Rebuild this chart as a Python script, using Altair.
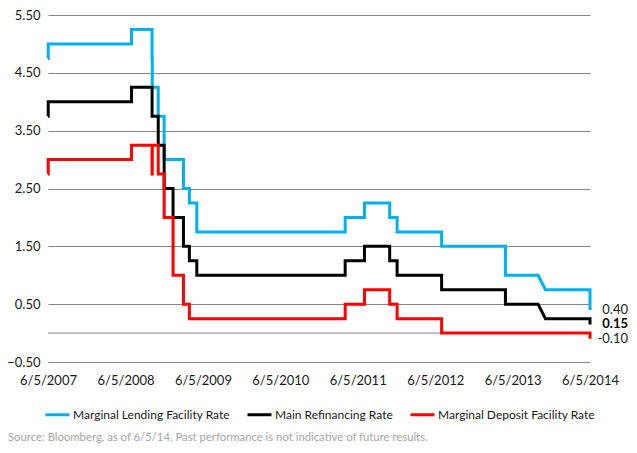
import altair as alt
import pandas as pd

# ECB policy rate decisions (announcement dates)
change_dates = ["2007-06-05", "2007-06-06", "2008-07-03", "2008-10-08", "2008-10-09",
                "2008-11-06", "2008-12-04", "2009-01-15", "2009-03-05", "2009-04-02",
                "2009-05-07", "2011-04-07", "2011-07-07", "2011-11-03", "2011-12-08",
                "2012-07-05", "2013-05-02", "2013-11-07", "2014-06-05"]
lending = [4.75, 5.00, 5.25, 4.75, 4.25, 3.75, 3.00, 3.00, 2.50, 2.25, 1.75,
           2.00, 2.25, 2.00, 1.75, 1.50, 1.00, 0.75, 0.40]
refi = [3.75, 4.00, 4.25, 3.75, 3.75, 3.25, 2.50, 2.00, 1.50, 1.25, 1.00,
        1.25, 1.50, 1.25, 1.00, 0.75, 0.50, 0.25, 0.15]
deposit = [2.75, 3.00, 3.25, 2.75, 3.25, 2.75, 2.00, 1.00, 0.50, 0.25, 0.25,
           0.50, 0.75, 0.50, 0.25, 0.00, 0.00, 0.00, -0.10]
# changes drawn as a ramp in the original (start of ramp)
ramp_starts = {"2013-11-07": "2013-10-03"}

series_names = ["Marginal Lending Facility Rate", "Main Refinancing Rate",
                "Marginal Deposit Facility Rate"]
series_colors = ["#00B0F0", "#000000", "#FF0000"]
tick_years = [2007, 2008, 2009, 2010, 2011, 2012, 2013, 2014]
y_ticks = [-0.5, 0.5, 1.5, 2.5, 3.5, 4.5, 5.5]
end_labels = ["0.40", "0.15", "-0.10"]
source_text = "Source: Bloomberg, as of 6/5/14. Past performance is not indicative of future results."

rows = []
for name, vals in zip(series_names, [lending, refi, deposit]):
    idx = 0
    prev = None
    for d, v in zip(change_dates, vals):
        if prev is None:
            rows.append({"series": name, "date": d + "T00:00:00", "value": v, "idx": idx}); idx += 1
        elif v != prev:
            start = ramp_starts.get(d, d)
            rows.append({"series": name, "date": start + "T00:00:00", "value": prev, "idx": idx}); idx += 1
            rows.append({"series": name, "date": d + "T00:00:00", "value": v, "idx": idx}); idx += 1
        prev = v
df = pd.DataFrame(rows)

last_df = pd.DataFrame({
    "date": [change_dates[-1] + "T00:00:00"] * 3,
    "value": [lending[-1], refi[-1], deposit[-1]],
    "label": end_labels,
    "bold": [False, True, False],
})

FONT = "Lato"
GRID = "#868686"

x_enc = alt.X("date:T",
              scale=alt.Scale(domain=[alt.DateTime(year=2007, month=6, date=5),
                                      alt.DateTime(year=2014, month=6, date=5)]),
              axis=alt.Axis(values=[alt.DateTime(year=y, month=6, date=5) for y in tick_years],
                            format="%-m/%-d/%Y", title=None, grid=False, domain=False,
                            ticks=False, tickSize=0, labelPadding=12, labelFontSize=13,
                            labelColor="#1a1a1a", labelFont=FONT, labelOverlap=False,
                            labelFlush=False, labelBound=False))
y_scale = alt.Scale(domain=[-0.5, 5.5], nice=False, zero=False)

base_rule = alt.Chart(pd.DataFrame({"y": [0.0]})).mark_rule(color=GRID, strokeWidth=1).encode(
    y=alt.Y("y:Q", scale=y_scale,
            axis=alt.Axis(values=y_ticks, format=".2f", title=None, grid=True, gridColor=GRID,
                          gridWidth=1, domain=False, ticks=False, tickSize=0, labelPadding=8,
                          labelFontSize=13, labelColor="#1a1a1a", labelFont=FONT,
                          labelFlush=False, labelBound=False))
)

lines = alt.Chart(df).mark_line(strokeWidth=3, interpolate="linear", strokeCap="butt").encode(
    x=x_enc,
    y=alt.Y("value:Q", scale=y_scale),
    color=alt.Color("series:N",
                    scale=alt.Scale(domain=series_names, range=series_colors),
                    legend=alt.Legend(orient="none", legendX=-4, legendY=386, direction="horizontal",
                                      columns=3, title=None, symbolType="stroke",
                                      symbolStrokeWidth=3, symbolSize=576, labelFontSize=12,
                                      labelFont=FONT, labelColor="#1a1a1a", columnPadding=11,
                                      labelOffset=2, padding=0)),
    order=alt.Order("idx:Q"),
)

labels_normal = alt.Chart(last_df[~last_df["bold"]]).mark_text(
    align="right", baseline="middle", dx=38, fontSize=13, font=FONT, color="#1a1a1a"
).encode(x="date:T", y=alt.Y("value:Q", scale=y_scale), text="label:N")

labels_bold = alt.Chart(last_df[last_df["bold"]]).mark_text(
    align="right", baseline="middle", dx=38, fontSize=13, font=FONT, fontWeight="bold", color="#000000"
).encode(x="date:T", y=alt.Y("value:Q", scale=y_scale), text="label:N")

source = alt.Chart(pd.DataFrame({"t": [source_text]})).mark_text(
    align="left", baseline="middle", fontSize=11.3, font=FONT, color="#a6a6a6"
).encode(text="t:N", x=alt.value(-40), y=alt.value(423))

chart = alt.layer(base_rule, lines, labels_normal, labels_bold, source).properties(
    width=542, height=347,
    autosize=alt.AutoSizeParams(type="none"),
    padding={"left": 40, "top": 7, "right": 39, "bottom": 83},
).configure_view(stroke=None)

chart.save("out.html", embed_options={"renderer": "svg", "actions": False})
